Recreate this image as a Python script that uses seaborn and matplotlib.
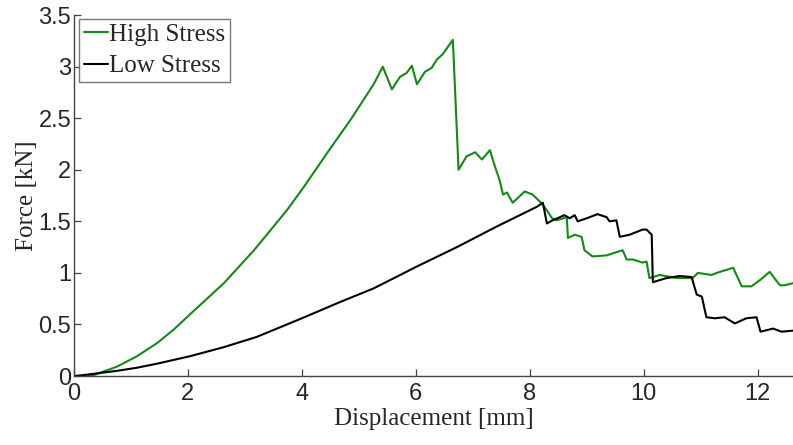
import numpy as np
import pandas as pd
import matplotlib
matplotlib.use("Agg")
import matplotlib.pyplot as plt
import seaborn as sns
from matplotlib.ticker import FuncFormatter

# Force-displacement curves for the two loading conditions
high_disp = [0.0, 0.2, 0.35, 0.75, 1.1, 1.46, 1.75, 2.02, 2.63, 3.16, 3.74, 4.03, 4.44,
             4.86, 5.26, 5.42,
             5.58, 5.72, 5.84, 5.93, 6.02, 6.16, 6.28, 6.37, 6.47, 6.65,
             6.75, 6.89, 7.04, 7.16, 7.3, 7.39, 7.47, 7.53, 7.6, 7.7, 7.91, 8.05,
             8.18, 8.23, 8.32, 8.39, 8.47, 8.65, 8.67, 8.79, 8.91, 8.96, 9.1, 9.35,
             9.46, 9.63, 9.7, 9.81, 9.98, 10.05, 10.1, 10.28, 10.58, 10.86, 10.95,
             11.19, 11.28, 11.57, 11.72, 11.89, 12.04, 12.21, 12.39, 12.47, 12.62]
high_force = [0.0, 0.0, 0.01, 0.09, 0.19, 0.32, 0.45, 0.59, 0.9, 1.22, 1.61, 1.83, 2.16,
              2.49, 2.83, 3.0,
              2.78, 2.9, 2.94, 3.01, 2.83, 2.95, 2.99, 3.07, 3.12, 3.26,
              2.0, 2.13, 2.17, 2.1, 2.19, 2.03, 1.9, 1.76, 1.78, 1.68, 1.79, 1.76,
              1.69, 1.66, 1.59, 1.53, 1.51, 1.54, 1.34, 1.37, 1.35, 1.22, 1.16, 1.17,
              1.19, 1.22, 1.13, 1.13, 1.1, 1.11, 0.95, 0.98, 0.95, 0.95, 1.0,
              0.98, 1.0, 1.05, 0.87, 0.87, 0.93, 1.01, 0.88, 0.88, 0.9]

low_disp = [0.0, 0.18, 0.75, 1.1, 1.46, 2.02, 2.63, 3.21, 4.0, 4.68, 5.26, 6.01, 6.72,
            7.42, 8.12, 8.23,
            8.3, 8.4, 8.61, 8.7, 8.79, 8.84, 9.0, 9.19, 9.35, 9.4, 9.52, 9.58, 9.75,
            9.98, 10.05, 10.14, 10.16, 10.4, 10.63, 10.84, 10.93, 11.02, 11.1, 11.25,
            11.42, 11.6, 11.8, 11.98, 12.05, 12.27, 12.42, 12.62]
low_force = [0.0, 0.01, 0.05, 0.08, 0.12, 0.19, 0.28, 0.38, 0.56, 0.72, 0.85, 1.06, 1.25,
             1.45, 1.64, 1.68,
             1.48, 1.51, 1.56, 1.53, 1.56, 1.5, 1.53, 1.57, 1.54, 1.5, 1.51, 1.35, 1.37,
             1.42, 1.42, 1.37, 0.91, 0.95, 0.97, 0.96, 0.79, 0.77, 0.57, 0.56,
             0.57, 0.51, 0.56, 0.57, 0.43, 0.46, 0.43, 0.44]

series_names = ["High Stress", "Low Stress"]
colors = {"High Stress": "#138a13", "Low Stress": "#000000"}

df = pd.concat([
    pd.DataFrame({"disp": high_disp, "force": high_force, "series": series_names[0]}),
    pd.DataFrame({"disp": low_disp, "force": low_force, "series": series_names[1]}),
], ignore_index=True)

sns.set_style("white")
plt.rcParams["font.family"] = ["Liberation Sans", "DejaVu Sans"]

fig = plt.figure(figsize=(7.93, 4.45), dpi=100)
ax = fig.add_axes([0.0933, 0.155, 0.9067, 0.811])

sns.lineplot(data=df, x="disp", y="force", hue="series", palette=colors,
             sort=False, estimator=None, linewidth=1.5, ax=ax, legend=False)

ax.set_xlim(0, 12.62)
ax.set_ylim(0, 3.5)
ax.set_xticks([0, 2, 4, 6, 8, 10, 12])
ax.set_yticks(np.arange(0, 3.51, 0.5))
ax.yaxis.set_major_formatter(FuncFormatter(lambda v, p: f"{v:g}"))

for side in ("top", "right"):
    ax.spines[side].set_visible(False)
for side in ("left", "bottom"):
    ax.spines[side].set_color("#444444")
    ax.spines[side].set_linewidth(1.0)

ax.tick_params(direction="in", length=5, width=0.9, color="#444444",
               labelsize=17, left=True, bottom=True)
ax.tick_params(axis="x", pad=5)
ax.tick_params(axis="y", pad=2)

serif = ["Liberation Serif", "DejaVu Serif"]
ax.set_xlabel("Displacement [mm]", family=serif, fontsize=18, labelpad=2)
ax.set_ylabel("Force [kN]", family=serif, fontsize=18, labelpad=0)

handles = [plt.Line2D([], [], color=colors[n], linewidth=1.5) for n in series_names]
leg = ax.legend(handles, series_names, loc="upper left", bbox_to_anchor=(0.007, 0.99),
                prop={"family": serif, "size": 18}, handlelength=0.95, handletextpad=0.05,
                borderpad=0.2, labelspacing=0.35, borderaxespad=0.0,
                frameon=True, fancybox=False)
leg.get_frame().set_edgecolor("#555555")
leg.get_frame().set_linewidth(1.0)

fig.savefig("out.png", dpi=100)
